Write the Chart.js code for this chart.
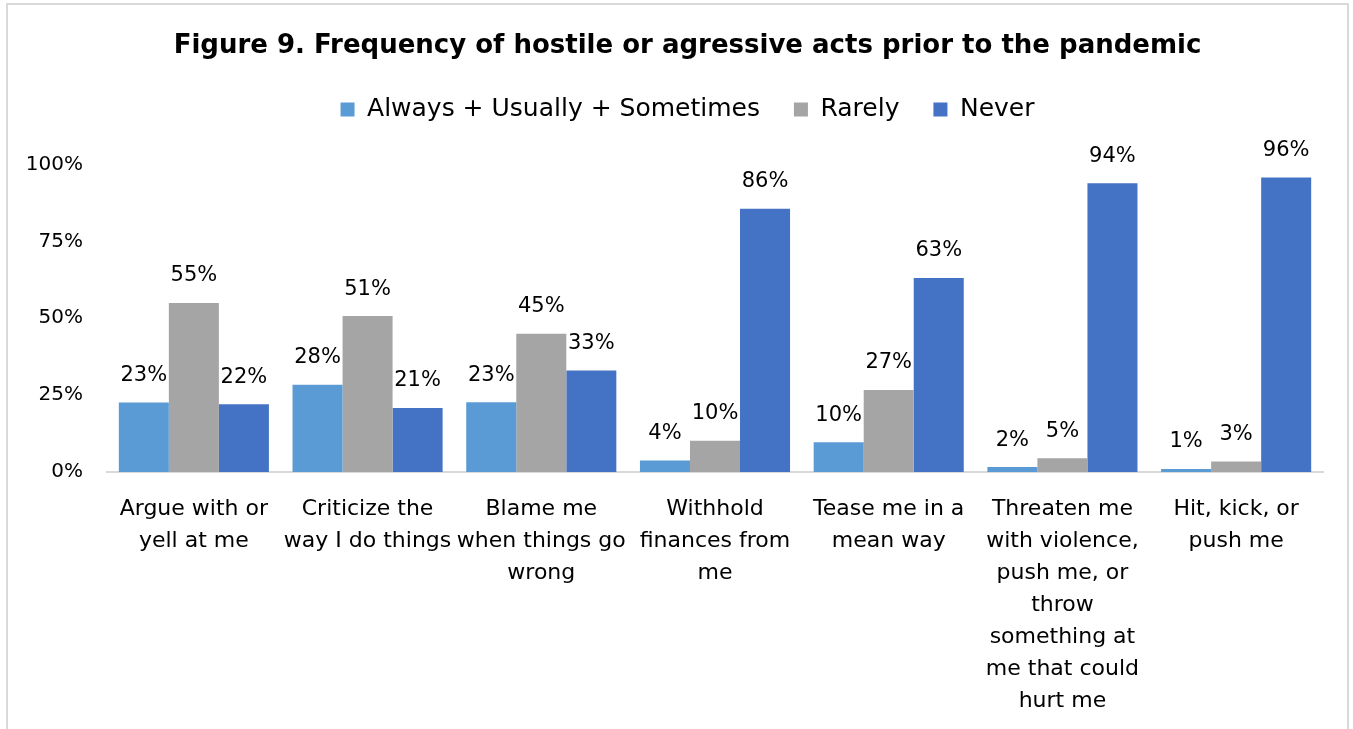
<!DOCTYPE html>
<html>
<head>
<meta charset="utf-8">
<script src="https://cdn.jsdelivr.net/npm/chart.js@4.4.1/dist/chart.umd.min.js"></script>
<style>
  html, body { margin: 0; padding: 0; background: #fff; overflow: hidden; }
  #wrap { position: relative; width: 1353px; height: 729px; }
  #frame { position: absolute; left: 6px; top: 3px; width: 1343px; height: 760px;
           border: 2px solid #d9d9d9; box-sizing: border-box; }
  canvas { position: absolute; left: 0; top: 0; }
</style>
</head>
<body>
<div id="wrap">
  <div id="frame"></div>
  <canvas id="chart" width="1353" height="729"></canvas>
</div>
<script>
const categories = [
  ['Argue with or', 'yell at me'],
  ['Criticize the', 'way I do things'],
  ['Blame me', 'when things go', 'wrong'],
  ['Withhold', 'finances from', 'me'],
  ['Tease me in a', 'mean way'],
  ['Threaten me', 'with violence,', 'push me, or', 'throw', 'something at', 'me that could', 'hurt me'],
  ['Hit, kick, or', 'push me'],
];
const seriesNames = ['Always + Usually + Sometimes', 'Rarely', 'Never'];
const alwaysValues = [22.6, 28.4, 22.7, 3.7, 9.7, 1.6, 1.0];
const rarelyValues = [55.0, 50.7, 45.0, 10.2, 26.7, 4.5, 3.4];
const neverValues = [22.0, 20.8, 33.0, 85.6, 63.1, 93.9, 95.8];
const yTicks = [0, 25, 50, 75, 100];

const FONT = 'DejaVu Sans';
const colors = ['#5b9bd5', '#a5a5a5', '#4472c4'];

const barLabels = {
  id: 'barLabels',
  afterDatasetsDraw(chart) {
    const ctx = chart.ctx;
    ctx.save();
    ctx.font = '21px "' + FONT + '"';
    ctx.fillStyle = '#000';
    ctx.textAlign = 'center';
    ctx.textBaseline = 'middle';
    chart.data.datasets.forEach((ds, i) => {
      chart.getDatasetMeta(i).data.forEach((bar, j) => {
        ctx.fillText(Math.round(ds.data[j]) + '%', bar.x, bar.y - 27);
      });
    });
    ctx.restore();
  }
};

new Chart(document.getElementById('chart'), {
  type: 'bar',
  data: {
    labels: categories,
    datasets: [alwaysValues, rarelyValues, neverValues].map((vals, i) => ({
      label: seriesNames[i],
      data: vals,
      backgroundColor: colors[i],
      categoryPercentage: 0.864,
      barPercentage: 1,
    })),
  },
  options: {
    responsive: false,
    animation: false,
    layout: { padding: { left: 22, right: 0, top: 8, bottom: 0 } },
    plugins: {
      title: {
        display: true,
        text: 'Figure 9. Frequency of hostile or agressive acts prior to the pandemic',
        color: '#000',
        font: { family: FONT, size: 26, weight: 'bold', lineHeight: 1 },
        padding: { top: 25, bottom: 4 },
      },
      legend: {
        labels: {
          color: '#000',
          font: { family: FONT, size: 25 },
          boxWidth: 14,
          boxHeight: 14,
          padding: 34,
        },
      },
      // empty spacer between legend and plot
      subtitle: {
        display: true,
        text: ' ',
        weight: 500,
        font: { size: 10, lineHeight: 1 },
        padding: { top: 0, bottom: 22.5 },
      },
      tooltip: { enabled: false },
    },
    scales: {
      x: {
        grid: { display: false, drawTicks: false },
        border: { display: true, color: '#d9d9d9', width: 2 },
        ticks: {
          color: '#000',
          font: { family: FONT, size: 22, lineHeight: 32 / 22 },
          padding: 21,
          maxRotation: 0,
          autoSkip: false,
        },
        afterFit(scale) { scale.height = 257; },
      },
      y: {
        min: 0,
        max: 100,
        grid: { display: false, drawTicks: false },
        border: { display: false },
        afterBuildTicks(scale) { scale.ticks = yTicks.map(v => ({ value: v })); },
        ticks: {
          color: '#000',
          font: { family: FONT, size: 20 },
          padding: 24,
          callback: v => v + '%',
        },
        afterFit(scale) { scale.width = 85; },
      },
      // blank right margin so the title and legend centre like the original
      yRight: {
        position: 'right',
        grid: { display: false, drawTicks: false },
        border: { display: false },
        ticks: { display: false },
        afterFit(scale) { scale.width = 30; },
      },
    },
  },
  plugins: [barLabels],
});
</script>
</body>
</html>
